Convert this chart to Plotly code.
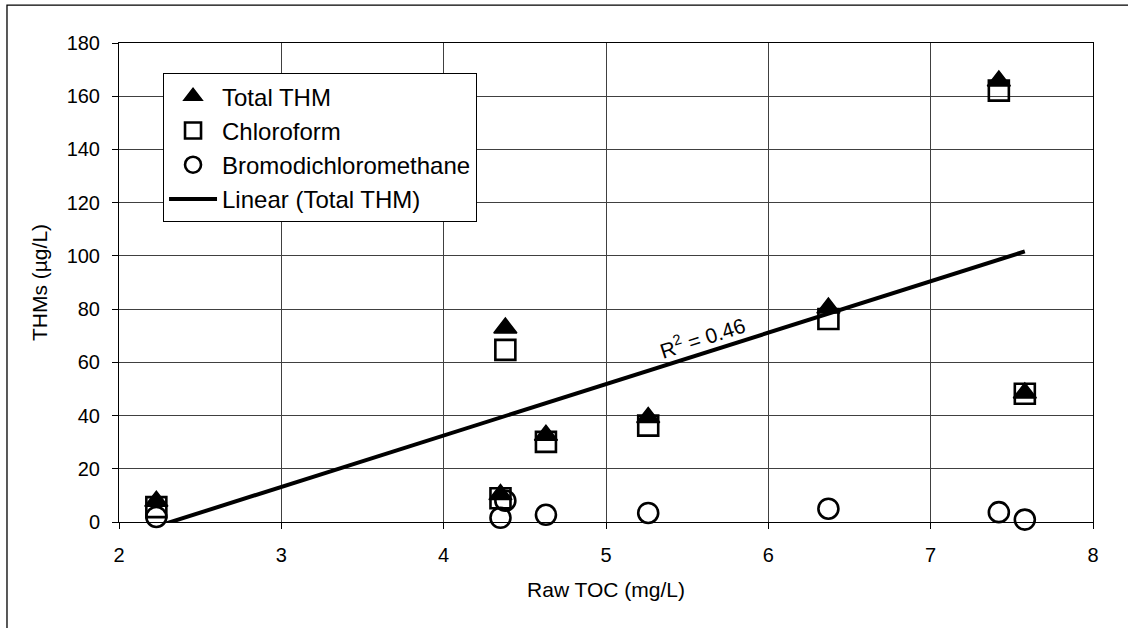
import numpy as np
import plotly.graph_objects as go

# Raw TOC (mg/L) for each sample and the matching THM concentrations (ug/L)
toc = [2.23, 4.35, 4.38, 4.63, 5.26, 6.37, 7.42, 7.58]
total_thm = [7.8, 10.3, 72.9, 32.6, 39.3, 80.4, 165.7, 48.5]
chloroform = [5.6, 8.9, 64.7, 30.1, 36.2, 76.3, 162.1, 48.2]
bromodichloromethane = [1.9, 1.6, 8.0, 2.7, 3.4, 5.0, 3.7, 0.9]

x_ticks = [2, 3, 4, 5, 6, 7, 8]
y_ticks = [0, 20, 40, 60, 80, 100, 120, 140, 160, 180]

# Least-squares linear trend of Total THM against TOC
slope, intercept = np.polyfit(toc, total_thm, 1)
fit_x = [min(toc), max(toc)]
fit_y = [slope * v + intercept for v in fit_x]
pred = np.polyval([slope, intercept], toc)
obs = np.array(total_thm)
r2 = 1 - np.sum((obs - pred) ** 2) / np.sum((obs - obs.mean()) ** 2)

FONT = "Arial, 'Liberation Sans', sans-serif"

fig = go.Figure()
fig.add_trace(go.Scatter(
    x=toc, y=total_thm, mode="markers", name="Total THM", legendgroup="a",
    marker=dict(symbol="triangle-up", size=20, color="black",
                line=dict(color="black", width=1.5)),
    cliponaxis=False,
))
fig.add_trace(go.Scatter(
    x=toc, y=chloroform, mode="markers", name="Chloroform", legendgroup="b",
    marker=dict(symbol="square-open", size=20, color="black",
                line=dict(color="black", width=2.6)),
    cliponaxis=False,
))
fig.add_trace(go.Scatter(
    x=toc, y=bromodichloromethane, mode="markers",
    name="Bromodichloromethane", legendgroup="c",
    marker=dict(symbol="circle-open", size=20, color="black",
                line=dict(color="black", width=2.6)),
    cliponaxis=False,
))
fig.add_trace(go.Scatter(
    x=fit_x, y=fit_y, mode="lines", name="Linear (Total THM)", legendgroup="d",
    line=dict(color="black", width=4),
))

fig.add_annotation(
    x=5.59, y=69.6, xref="x", yref="y",
    text=f"R<sup>2</sup> = {r2:.2f}", showarrow=False, textangle=-18,
    font=dict(family=FONT, size=21, color="black"),
)

# Chart-area frame
fig.add_shape(type="rect", xref="paper", yref="paper",
              x0=-0.115, x1=1.2, y0=-0.4, y1=1.079,
              line=dict(color="black", width=1.3), layer="below")

axis_common = dict(
    showline=True, linecolor="black", linewidth=1, mirror=True,
    showgrid=True, gridcolor="#404040", gridwidth=1,
    zeroline=False, ticks="outside", ticklen=6, tickcolor="black",
    tickfont=dict(family=FONT, size=20, color="black"),
)

fig.update_xaxes(
    range=[2, 8], tickvals=x_ticks, ticklabelstandoff=9,
    title=dict(text="Raw TOC (mg/L)", standoff=17,
               font=dict(family=FONT, size=21, color="black")),
    **axis_common,
)
fig.update_yaxes(
    range=[0, 180], tickvals=y_ticks, ticklabelstandoff=8,
    title=dict(text="THMs (µg/L)", standoff=13,
               font=dict(family=FONT, size=21, color="black")),
    **axis_common,
)

fig.update_layout(
    width=1128, height=628, autosize=False,
    margin=dict(l=119, r=35, t=43, b=106),
    paper_bgcolor="white", plot_bgcolor="white",
    font=dict(family=FONT, color="black"),
    legend=dict(
        x=0.0452, y=0.937, xanchor="left", yanchor="top",
        bgcolor="white", bordercolor="black", borderwidth=1,
        font=dict(family=FONT, size=24, color="black"),
        itemwidth=48, tracegroupgap=2, traceorder="normal",
    ),
    showlegend=True,
)

fig.write_html("out.html")
